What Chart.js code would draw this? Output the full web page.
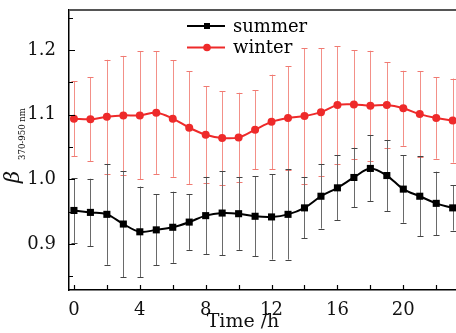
<!DOCTYPE html>
<html>
<head>
<meta charset="utf-8">
<script src="https://cdn.jsdelivr.net/npm/chart.js@4/dist/chart.umd.min.js"></script>
<style>
  html, body { margin: 0; padding: 0; background: #fff; }
  #wrap { width: 456px; height: 333px; }
</style>
</head>
<body>
<div id="wrap"><canvas id="chart" width="456" height="333"></canvas></div>
<script>
// hours of the day
const hours = [0, 1, 2, 3, 4, 5, 6, 7, 8, 9, 10, 11, 12, 13, 14, 15, 16, 17, 18, 19, 20, 21, 22, 23]

// summer: mean and standard deviation
const summerMean = [0.952, 0.949, 0.946, 0.931, 0.919, 0.922, 0.926, 0.934, 0.944, 0.948, 0.947, 0.943,
  0.942, 0.946, 0.956, 0.974, 0.987, 1.003, 1.017, 1.006, 0.985, 0.974, 0.963, 0.956]
const summerStd = [0.050, 0.052, 0.078, 0.082, 0.070, 0.055, 0.055, 0.043, 0.060, 0.065, 0.056, 0.062,
  0.066, 0.070, 0.047, 0.050, 0.050, 0.046, 0.051, 0.055, 0.052, 0.062, 0.049, 0.035]

// winter: mean and standard deviation
const winterMean = [1.094, 1.093, 1.097, 1.099, 1.099, 1.103, 1.094, 1.080, 1.069, 1.064, 1.065, 1.077,
  1.089, 1.095, 1.098, 1.104, 1.115, 1.116, 1.114, 1.115, 1.110, 1.101, 1.095, 1.091]
const winterStd = [0.058, 0.065, 0.088, 0.092, 0.099, 0.095, 0.090, 0.087, 0.075, 0.072, 0.069, 0.061,
  0.073, 0.080, 0.105, 0.099, 0.091, 0.084, 0.085, 0.066, 0.058, 0.066, 0.063, 0.065]

const xLabelTicks = [0, 4, 8, 12, 16, 20]
const xMarkTicks = [0, 2, 4, 6, 8, 10, 12, 14, 16, 18, 20, 22]
const yLabelTicks = [0.9, 1.0, 1.1, 1.2]
const yMinorTicks = [0.85, 0.95, 1.05, 1.15, 1.25]

const SERIF = '"DejaVu Serif", "Liberation Serif", serif'

const series = [
  { label: 'summer', mean: summerMean, std: summerStd, color: '#000000', barColor: '#6a6a6a', capColor: '#444444', style: 'rect', radius: 5 },
  { label: 'winter', mean: winterMean, std: winterStd, color: '#ee2a2a', barColor: '#f39088', capColor: '#f07a72', style: 'circle', radius: 4 }
]

const errorBars = {
  id: 'errorBars',
  beforeDatasetsDraw (chart) {
    const ctx = chart.ctx
    const x = chart.scales.x
    const y = chart.scales.y
    ctx.save()
    // winter bars first, summer on top
    for (let s = series.length - 1; s >= 0; s--) {
      const d = series[s]
      hours.forEach((h, i) => {
        const px = Math.round(x.getPixelForValue(h)) + 0.5
        const top = y.getPixelForValue(d.mean[i] + d.std[i])
        const bot = y.getPixelForValue(d.mean[i] - d.std[i])
        ctx.strokeStyle = d.barColor
        ctx.lineWidth = 1
        ctx.beginPath()
        ctx.moveTo(px, top)
        ctx.lineTo(px, bot)
        ctx.stroke()
        ctx.strokeStyle = d.capColor
        ctx.beginPath()
        ctx.moveTo(px - 3, Math.round(top) + 0.5)
        ctx.lineTo(px + 3, Math.round(top) + 0.5)
        ctx.moveTo(px - 3, Math.round(bot) + 0.5)
        ctx.lineTo(px + 3, Math.round(bot) + 0.5)
        ctx.stroke()
      })
    }
    ctx.restore()
  }
}

const frame = {
  id: 'frame',
  afterDraw (chart) {
    const ctx = chart.ctx
    const a = chart.chartArea
    const x = chart.scales.x
    const y = chart.scales.y
    ctx.save()
    // top border
    ctx.strokeStyle = '#555555'
    ctx.lineWidth = 2
    ctx.beginPath()
    ctx.moveTo(a.left, a.top)
    ctx.lineTo(chart.width, a.top)
    ctx.stroke()

    // inward ticks
    ctx.strokeStyle = '#000000'
    ctx.lineWidth = 1.2
    ctx.beginPath()
    xMarkTicks.forEach(v => {
      const px = Math.round(x.getPixelForValue(v)) + 0.5
      ctx.moveTo(px, a.bottom)
      ctx.lineTo(px, a.bottom - 5)
    })
    yLabelTicks.forEach(v => {
      const py = Math.round(y.getPixelForValue(v)) + 0.5
      ctx.moveTo(a.left, py)
      ctx.lineTo(a.left + 6, py)
    })
    yMinorTicks.forEach(v => {
      const py = Math.round(y.getPixelForValue(v)) + 0.5
      ctx.moveTo(a.left, py)
      ctx.lineTo(a.left + 4, py)
    })
    ctx.stroke()

    // x title
    ctx.fillStyle = '#111111'
    ctx.font = '19px ' + SERIF
    ctx.textAlign = 'center'
    ctx.textBaseline = 'alphabetic'
    ctx.fillText('Time /h', 243, 327)

    // y title: beta with subscript
    ctx.translate(19, 183)
    ctx.rotate(-Math.PI / 2)
    ctx.textAlign = 'left'
    ctx.font = 'italic 21px ' + SERIF
    ctx.fillText('\u03b2', 0, 0)
    ctx.font = '10px ' + SERIF
    ctx.fillText('370-950 nm', 23, 6, 52)
    ctx.restore()

    // legend
    ctx.save()
    series.forEach((d, i) => {
      const ly = 26 + i * 21.5
      ctx.strokeStyle = d.color
      ctx.lineWidth = 2
      ctx.beginPath()
      ctx.moveTo(187, ly)
      ctx.lineTo(225, ly)
      ctx.stroke()
      ctx.fillStyle = d.color
      if (d.style === 'rect') {
        ctx.fillRect(204, ly - 3, 6, 6)
      } else {
        ctx.beginPath()
        ctx.arc(207, ly, 3.8, 0, Math.PI * 2)
        ctx.fill()
      }
      ctx.fillStyle = '#000000'
      ctx.font = '18px ' + SERIF
      ctx.textBaseline = 'middle'
      ctx.fillText(d.label, 233, ly + 1)
    })
    ctx.restore()
  }
}

const noPad = scale => {
  scale.paddingTop = 0
  scale.paddingBottom = 0
  scale.paddingLeft = 0
  scale.paddingRight = 0
}

new Chart(document.getElementById('chart'), {
  type: 'line',
  data: {
    datasets: series.map(d => ({
      label: d.label,
      data: hours.map((h, i) => ({ x: h, y: d.mean[i] })),
      borderColor: d.color,
      backgroundColor: d.color,
      borderWidth: 2,
      pointStyle: d.style,
      pointRadius: d.radius,
      pointHoverRadius: d.radius,
      pointBorderWidth: 0,
      tension: 0.35,
      fill: false
    }))
  },
  options: {
    responsive: false,
    animation: false,
    devicePixelRatio: 1,
    layout: { autoPadding: false, padding: { top: 10, right: 0, bottom: 0, left: 0 } },
    plugins: {
      legend: { display: false },
      tooltip: { enabled: false }
    },
    scales: {
      x: {
        type: 'linear',
        min: -0.3,
        max: 23.2,
        afterBuildTicks: scale => { scale.ticks = xLabelTicks.map(v => ({ value: v })) },
        afterFit: scale => { scale.height = 43; noPad(scale) },
        grid: { display: false },
        border: { display: true, color: '#000000', width: 1.5 },
        ticks: {
          color: '#111111',
          padding: 2,
          maxRotation: 0,
          font: { family: SERIF, size: 18 },
          callback: v => String(v)
        }
      },
      y: {
        min: 0.829,
        max: 1.262,
        afterBuildTicks: scale => { scale.ticks = yLabelTicks.map(v => ({ value: v })) },
        afterFit: scale => { scale.width = 69; noPad(scale) },
        grid: { display: false },
        border: { display: true, color: '#000000', width: 1.5 },
        ticks: {
          color: '#111111',
          padding: 5,
          font: { family: SERIF, size: 18 },
          callback: v => v.toFixed(1)
        }
      }
    }
  },
  plugins: [errorBars, frame]
})
</script>
</body>
</html>
